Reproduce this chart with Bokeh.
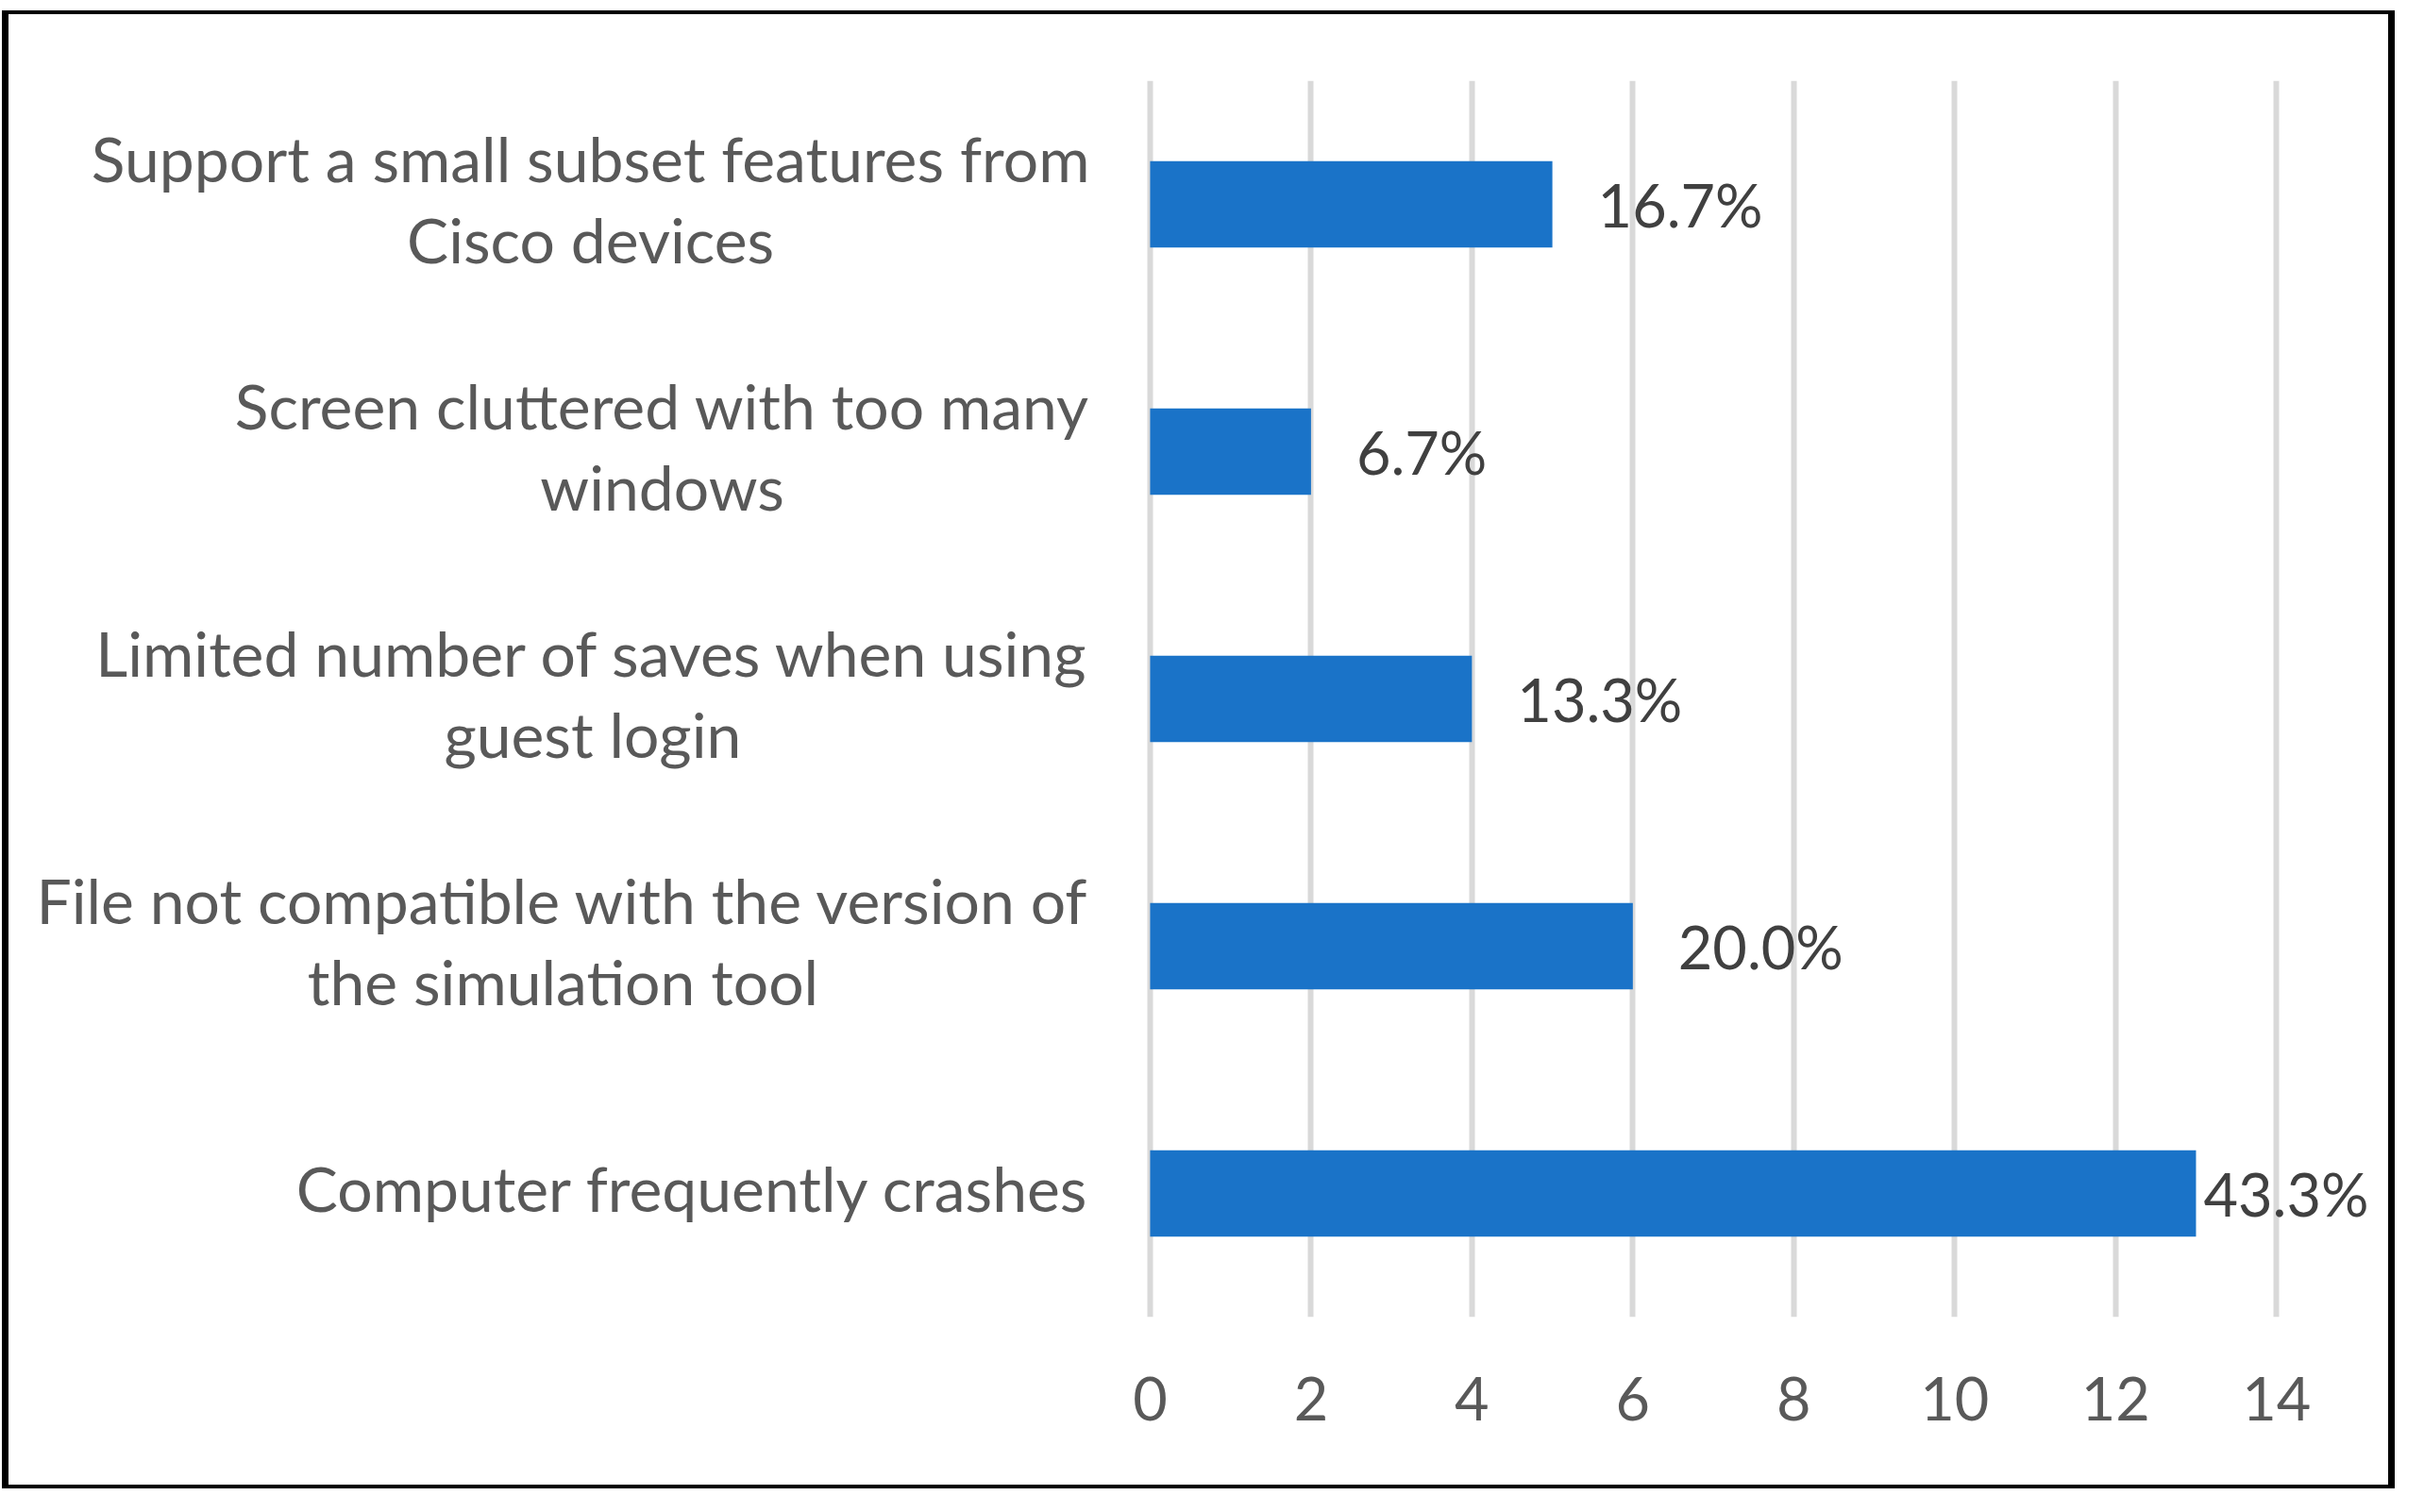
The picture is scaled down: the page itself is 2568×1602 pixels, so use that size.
from bokeh.plotting import figure
from bokeh.models import FactorRange, FixedTicker, ColumnDataSource, Range1d
from bokeh.core.properties import value
from bokeh.embed import file_html
from bokeh.resources import INLINE

# ---- data (top of chart first) ----
categories = [
    "Support a small subset features from\nCisco devices",
    "Screen cluttered with too many\nwindows",
    "Limited number of saves when using\nguest login",
    "File not compatible with the version of\nthe simulation tool",
    "Computer frequently crashes",
]
counts = [5, 2, 4, 6, 13]
x_ticks = [0, 2, 4, 6, 8, 10, 12, 14]

total = sum(counts)
pct_labels = [f"{c / total * 100:.1f}%" for c in counts]
label_offsets = [8 if c == max(counts) else 48 for c in counts]
zeros = [0] * len(categories)

FONT = "Lato"
TEXT_GREY = "#595959"
BAR_BLUE = "#1A73C8"

src = ColumnDataSource(dict(cat=categories, count=counts, pct=pct_labels,
                            off=label_offsets, zero=zeros))

W, H = 2537, 1577
p = figure(
    width=W, height=H,
    y_range=FactorRange(factors=categories[::-1], range_padding=0),
    x_range=Range1d(-14.09, 15.30),
    output_backend="svg", toolbar_location=None,
    min_border_left=17, min_border_right=15, min_border_top=85, min_border_bottom=182,
)
# black box around the whole chart, painted as the host's CSS background
g = "linear-gradient(#000,#000)"
p.styles = {
    "background-image": ", ".join([g] * 4),
    "background-position": "2px 11px, 2530px 11px, 2px 11px, 2px 1573px",
    "background-size": "7px 1566px, 7px 1566px, 2535px 4px, 2535px 4px",
    "background-repeat": "no-repeat",
}
p.border_fill_alpha = 0
p.outline_line_color = None
p.background_fill_color = "white"

p.hbar(y="cat", right="count", height=0.35, left=0, source=src,
       fill_color=BAR_BLUE, line_color=None)

# value labels
p.text(x="count", y="cat", text="pct", x_offset="off", source=src,
       text_font=value(FONT), text_font_size="63px", text_color="#404040",
       text_align="left", text_baseline="middle")

# category labels: block right-anchored next to the axis, lines centred
p.text(x="zero", y="cat", text="cat", x_offset=-64, y_offset=-6, source=src,
       text_font=value(FONT), text_font_size="66px", text_color=TEXT_GREY,
       anchor="center_right", text_align="center", text_baseline="middle",
       text_line_height=1.08)

# grid
p.ygrid.grid_line_color = None
p.xgrid.ticker = FixedTicker(ticks=x_ticks)
p.xgrid.grid_line_color = "#D9D9D9"
p.xgrid.grid_line_width = 6

# x axis
p.xaxis.ticker = FixedTicker(ticks=x_ticks)
p.xaxis.axis_line_color = None
p.xaxis.major_tick_line_color = None
p.xaxis.minor_tick_line_color = None
p.xaxis.major_label_text_font = FONT
p.xaxis.major_label_text_font_size = "63px"
p.xaxis.major_label_text_color = TEXT_GREY
p.xaxis.major_label_standoff = 57

# y axis hidden (labels drawn as text above)
p.yaxis.visible = False

open("out.html", "w").write(file_html(p, INLINE))
